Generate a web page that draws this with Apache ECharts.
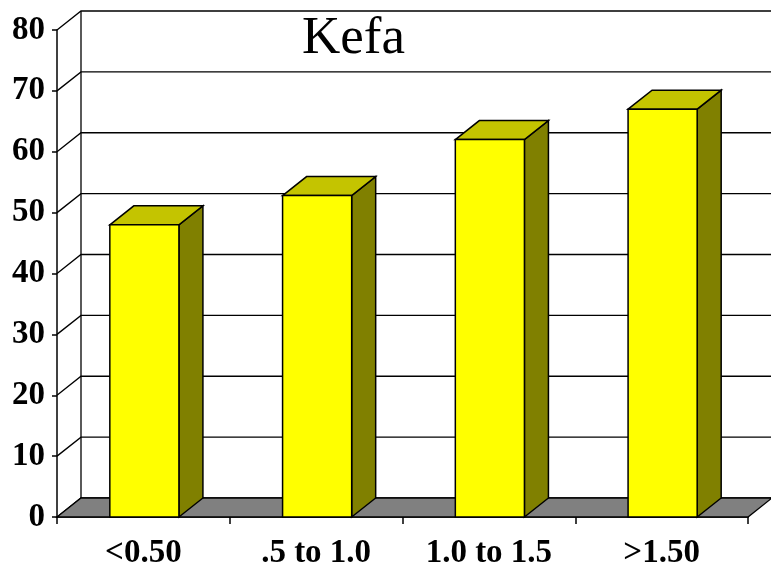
<!DOCTYPE html>
<html>
<head>
<meta charset="utf-8">
<title>Kefa</title>
<script src="https://cdn.jsdelivr.net/npm/echarts@6/dist/echarts.min.js"></script>
<style>
  html, body { margin: 0; padding: 0; background: #fff; }
  #chart { width: 771px; height: 567px; }
</style>
</head>
<body>
<div id="chart"></div>
<script>
// Chart data
const categories = ['<0.50', '.5 to 1.0', '1.0 to 1.5', '>1.50'];
const values = [48, 52.8, 62, 67];
const yTicks = [0, 10, 20, 30, 40, 50, 60, 70, 80];

// Depth offset of the pseudo-3D box (pixels)
const DX = 24;
const DY = -19;
const SERIF = '"Liberation Serif", "Times New Roman", serif';

const chart = echarts.init(document.getElementById('chart'), null, { renderer: 'canvas' });

// Back wall grid lines: diagonal from the front axis, then across the back wall
function renderGridLine(params, api) {
  const cs = params.coordSys;
  const y = api.coord([0, api.value(1)])[1];
  const left = cs.x;
  const right = cs.x + cs.width;
  return {
    type: 'polyline',
    shape: { points: [[left, y], [left + DX, y + DY], [right + DX, y + DY]] },
    style: { stroke: '#000', lineWidth: 1.3, fill: null },
    silent: true
  };
}

// Floor plate and back wall edge
function renderFloor(params, api) {
  const cs = params.coordSys;
  const y0 = api.coord([0, 0])[1];
  const yTop = api.coord([0, yTicks[yTicks.length - 1]])[1];
  const left = cs.x;
  const right = cs.x + cs.width;
  return {
    type: 'group',
    children: [
      {
        type: 'line',
        shape: { x1: left + DX, y1: yTop + DY, x2: left + DX, y2: y0 + DY },
        style: { stroke: '#000', lineWidth: 1.3 }
      },
      {
        type: 'polygon',
        shape: { points: [[left, y0], [right, y0], [right + DX, y0 + DY], [left + DX, y0 + DY]] },
        style: { fill: '#808080', stroke: '#000', lineWidth: 1.3 }
      }
    ],
    silent: true
  };
}

// 3D bar: front face, top face, right side face
function renderBar(params, api) {
  const top = api.coord([api.value(0), api.value(1)]);
  const base = api.coord([api.value(0), 0]);
  const band = api.size([1, 0])[0];
  const w = band * 0.4;
  const x0 = top[0] - w / 2 + 1;
  const x1 = x0 + w;
  const yt = top[1];
  const yb = base[1];
  const edge = { stroke: '#000', lineWidth: 1.5, lineJoin: 'miter' };
  return {
    type: 'group',
    children: [
      {
        type: 'polygon',
        shape: { points: [[x1, yb], [x1 + DX, yb + DY], [x1 + DX, yt + DY], [x1, yt]] },
        style: Object.assign({ fill: '#808000' }, edge)
      },
      {
        type: 'polygon',
        shape: { points: [[x0, yt], [x0 + DX, yt + DY], [x1 + DX, yt + DY], [x1, yt]] },
        style: Object.assign({ fill: '#C4C400' }, edge)
      },
      {
        type: 'rect',
        shape: { x: x0, y: yt, width: w, height: yb - yt },
        style: Object.assign({ fill: '#FFFF00' }, edge)
      }
    ]
  };
}

const labelStyle = {
  fontFamily: SERIF,
  fontWeight: 'bold',
  fontSize: 33,
  color: '#000'
};

chart.setOption({
  animation: false,
  backgroundColor: '#fff',
  title: {
    text: 'Kefa',
    left: 297,
    top: 8,
    textStyle: { fontFamily: SERIF, fontWeight: 'normal', fontSize: 53, color: '#000' }
  },
  grid: { left: 57, right: 23, top: 30, bottom: 50, containLabel: false, outerBoundsMode: 'none' },
  xAxis: {
    type: 'category',
    data: categories,
    boundaryGap: true,
    axisLine: { show: true, lineStyle: { color: '#000', width: 1.5 } },
    axisTick: { show: true, length: 7, lineStyle: { color: '#000', width: 1.5 } },
    axisLabel: Object.assign({ margin: 20, interval: 0 }, labelStyle),
    splitLine: { show: false }
  },
  yAxis: {
    type: 'value',
    min: 0,
    max: 80,
    interval: 10,
    axisLine: { show: true, lineStyle: { color: '#000', width: 1.5 } },
    axisTick: { show: true, length: 5, lineStyle: { color: '#000', width: 1.5 } },
    axisLabel: Object.assign({ margin: 12 }, labelStyle),
    splitLine: { show: false }
  },
  series: [
    {
      type: 'custom',
      name: 'grid',
      z: 1,
      renderItem: renderGridLine,
      data: yTicks.map(v => [0, v]),
      encode: { x: 0, y: 1 },
      silent: true
    },
    {
      type: 'custom',
      name: 'floor',
      z: 2,
      renderItem: renderFloor,
      data: [[0, 0]],
      encode: { x: 0, y: 1 },
      silent: true
    },
    {
      type: 'custom',
      name: 'Kefa',
      z: 3,
      renderItem: renderBar,
      data: values.map((v, i) => [i, v]),
      encode: { x: 0, y: 1 }
    }
  ]
});
</script>
</body>
</html>
